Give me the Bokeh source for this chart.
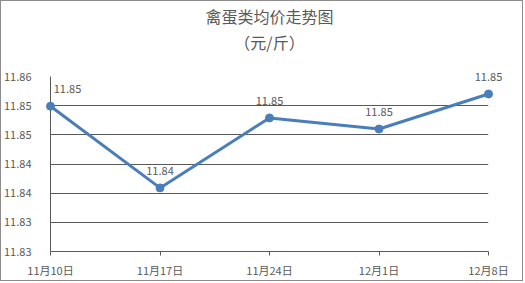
from bokeh.plotting import figure
from bokeh.models import ColumnDataSource, Range1d, FixedTicker, Title
from bokeh.core.properties import value
from bokeh.embed import file_html
from bokeh.resources import INLINE

# Data
dates = ["11月10日", "11月17日", "11月24日", "12月1日", "12月8日"]
prices = [11.8499, 11.8359, 11.8479, 11.8460, 11.8520]
price_labels = ["11.85", "11.84", "11.85", "11.85", "11.85"]
y_ticks = [11.825, 11.830, 11.835, 11.840, 11.845, 11.850, 11.855]
y_tick_labels = ["11.83", "11.83", "11.84", "11.84", "11.85", "11.85", "11.86"]
title_main = "禽蛋类均价走势图"
title_unit = "（元/斤）"

FONT = "Noto Sans CJK SC"
GREY = "#595959"
BLUE = "#4A7EBB"

xs = list(range(len(dates)))
label_dx = [17, 0, 0, 0, 0]
src = ColumnDataSource(dict(x=xs, y=prices, lbl=price_labels, dx=label_dx))

p = figure(width=523, height=281, output_backend="svg", toolbar_location=None,
           x_range=Range1d(0, len(dates) - 1), y_range=Range1d(y_ticks[0], y_ticks[-1]),
           min_border_left=48, min_border_right=36, min_border_top=74, min_border_bottom=31)
p.styles = {"border": "1px solid #8c8c8c"}
p.outline_line_color = None
p.background_fill_color = "white"
p.border_fill_color = "white"

p.title.text = title_main
p.title.align = "center"
p.title.text_font = FONT
p.title.text_font_size = "16px"
p.title.text_font_style = "normal"
p.title.text_color = GREY
p.title.offset = -6
p.title.standoff = 1

# unit line, with an empty line below it as spacing towards the plot area
t2 = Title(text=title_unit + "\n", align="center", text_font=FONT,
           text_font_size="16px", text_font_style="normal", text_color=GREY,
           offset=-6, standoff=-2)
p.add_layout(t2, "above")

# axes
p.xaxis.ticker = FixedTicker(ticks=xs)
p.xaxis.major_label_overrides = {i: d for i, d in zip(xs, dates)}
p.xaxis.minor_tick_line_color = None
p.xaxis.major_tick_in = 0
p.xaxis.major_tick_out = 4
p.xaxis.major_tick_line_color = GREY
p.xaxis.axis_line_color = GREY
p.xaxis.major_label_text_font = FONT
p.xaxis.major_label_text_font_size = "11px"
p.xaxis.major_label_text_color = GREY
p.xaxis.major_label_standoff = 6

p.yaxis.ticker = FixedTicker(ticks=y_ticks)
p.yaxis.major_label_overrides = {t: l for t, l in zip(y_ticks, y_tick_labels)}
p.yaxis.minor_tick_line_color = None
p.yaxis.major_tick_line_color = None
p.yaxis.axis_line_color = GREY
p.yaxis.major_label_text_font = FONT
p.yaxis.major_label_text_font_size = "11px"
p.yaxis.major_label_text_color = GREY
p.yaxis.major_label_standoff = 13

p.xgrid.grid_line_color = None
p.ygrid.grid_line_color = GREY
p.ygrid.grid_line_width = 1

r1 = p.line("x", "y", source=src, line_color=BLUE, line_width=3)
r2 = p.scatter("x", "y", source=src, size=8, fill_color=BLUE, line_color=BLUE)
r3 = p.text("x", "y", text="lbl", source=src, x_offset="dx", y_offset=-13,
            text_align="center", text_baseline="bottom",
            text_font=value(FONT), text_font_size="11px", text_color=GREY)
for r in (r1, r2, r3):
    r.level = "overlay"

open("out.html", "w").write(file_html(p, INLINE))
